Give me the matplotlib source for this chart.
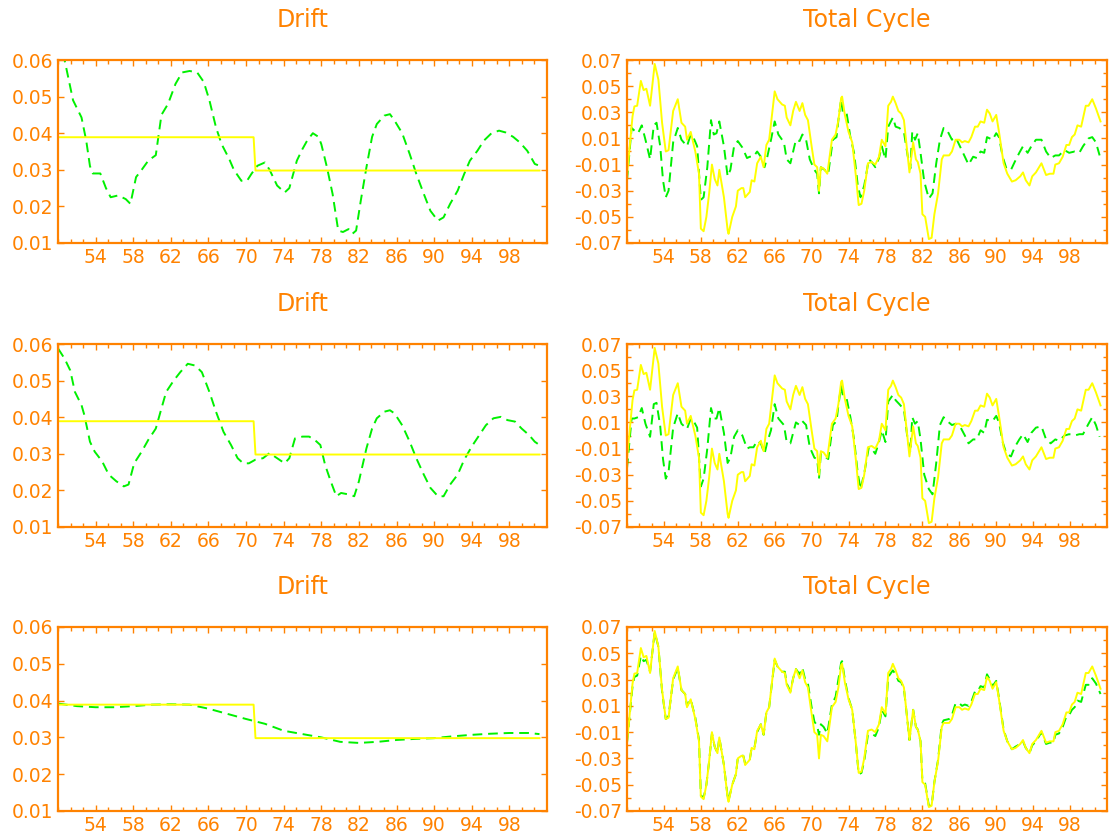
import numpy as np
import matplotlib
matplotlib.use("Agg")
import matplotlib.pyplot as plt
from matplotlib.ticker import FixedLocator

ORANGE = '#FF8200'
YELLOW = '#FFFF00'
GREEN = '#00F000'

# ---- Drift panels ----
trend_years = [50.0, 70.8, 71.0, 101.2]
trend_vals = [0.0389, 0.0389, 0.0298, 0.0298]

d1_years = [50.0, 50.7, 51.6, 52.5, 53.0, 53.4, 53.7, 54.5, 55.1, 55.6,
            56.4, 57.2, 57.7, 58.3, 58.9, 59.6, 60.4, 61.0, 61.7, 62.5,
            63.2, 64.0, 64.8, 65.5, 66.1, 66.8, 67.4, 68.2, 68.7, 69.5,
            70.1, 70.6, 71.2, 72.0, 72.5, 73.3, 74.1, 74.6, 75.4, 76.0,
            76.5, 77.1, 77.7, 78.0, 78.6, 79.2, 79.8, 80.3, 80.9, 81.3,
            81.7, 82.2, 82.8, 83.4, 83.9, 84.7, 85.3, 85.8, 86.6, 87.4,
            88.1, 88.9, 89.6, 90.4, 91.0, 91.7, 92.5, 93.2, 93.8, 94.6,
            95.3, 96.1, 96.9, 97.6, 98.4, 99.1, 99.9, 100.7, 101.2]
d1_vals = [0.066, 0.060, 0.049, 0.0443, 0.038, 0.031, 0.029, 0.029, 0.025, 0.0225,
           0.023, 0.022, 0.0207, 0.028, 0.030, 0.0325, 0.034, 0.045, 0.048, 0.0535,
           0.0566, 0.057, 0.0566, 0.054, 0.049, 0.0416, 0.037, 0.033, 0.030, 0.027,
           0.027, 0.029, 0.0311, 0.032, 0.030, 0.0257, 0.0238, 0.025, 0.0325, 0.0357,
           0.038, 0.040, 0.039, 0.037, 0.0307, 0.0234, 0.0134, 0.013, 0.0138, 0.0125,
           0.0134, 0.0216, 0.0307, 0.039, 0.0425, 0.0448, 0.0452, 0.0434, 0.040, 0.0343,
           0.0289, 0.0234, 0.0188, 0.0161, 0.017, 0.0207, 0.0243, 0.0289, 0.0325, 0.0352,
           0.038, 0.040, 0.0407, 0.0402, 0.039, 0.0375, 0.0352, 0.0316, 0.0311]

d2_years = [50.0, 50.7, 51.3, 51.8, 52.5, 52.8, 53.4, 53.9, 54.7, 55.4,
            56.2, 57.0, 57.5, 58.1, 58.9, 59.6, 60.4, 61.0, 61.5, 62.3,
            63.0, 63.8, 64.6, 65.3, 66.1, 66.8, 67.6, 68.4, 69.1, 69.7,
            70.3, 71.0, 71.8, 72.5, 73.3, 74.1, 74.6, 75.2, 76.0, 76.7,
            77.3, 77.9, 78.4, 79.0, 79.6, 80.1, 80.9, 81.5, 82.0, 82.8,
            83.4, 83.9, 84.7, 85.3, 85.8, 86.6, 87.4, 88.1, 88.9, 89.6,
            90.4, 91.0, 91.7, 92.5, 93.2, 94.0, 94.8, 95.5, 96.3, 97.1,
            97.8, 98.6, 99.3, 100.1, 100.7, 101.2]
d2_vals = [0.0588, 0.056, 0.0528, 0.0469, 0.0433, 0.0406, 0.0333, 0.0306, 0.0279, 0.0243,
           0.0225, 0.0211, 0.0216, 0.0274, 0.0306, 0.0338, 0.0369, 0.0424, 0.0469, 0.050,
           0.0523, 0.0546, 0.0541, 0.0523, 0.0469, 0.0415, 0.036, 0.0324, 0.0288, 0.0274,
           0.0274, 0.0284, 0.0288, 0.0302, 0.0288, 0.0274, 0.0288, 0.0342, 0.0347, 0.0347,
           0.0338, 0.0324, 0.027, 0.0225, 0.0184, 0.0193, 0.0189, 0.0184, 0.0225, 0.0315,
           0.0369, 0.0397, 0.0415, 0.0419, 0.041, 0.0378, 0.0333, 0.0288, 0.0243, 0.0207,
           0.0184, 0.0184, 0.0216, 0.0243, 0.0284, 0.032, 0.0351, 0.0378, 0.0397, 0.0401,
           0.0392, 0.0388, 0.0369, 0.0351, 0.0333, 0.0324]

d3_years = [50, 52, 54, 56, 58, 60, 62, 64, 66, 68, 70, 72, 74, 76, 78, 80,
            82, 84, 86, 88, 90, 92, 94, 96, 98, 100, 101.2]
d3_vals = [0.0392, 0.0385, 0.0382, 0.0382, 0.0385, 0.0389, 0.039, 0.0389, 0.0378,
           0.0364, 0.035, 0.0337, 0.0318, 0.0309, 0.030, 0.0288, 0.0285, 0.0288,
           0.0293, 0.0296, 0.0298, 0.0303, 0.0307, 0.031, 0.0312, 0.0312, 0.0309]

# ---- Total cycle panels ----
cyc_years = [50.0, 50.6, 50.8, 51.1, 51.5, 51.8, 52.1, 52.5, 53.0, 53.4,
             53.8, 54.2, 54.5, 55.0, 55.5, 55.9, 56.3, 56.5, 56.9, 57.4,
             57.8, 58.0, 58.3, 58.6, 58.9, 59.2, 59.5, 59.8, 60.0, 60.5,
             60.9, 61.0, 61.4, 61.8, 62.0, 62.4, 62.6, 62.8, 63.3, 63.5,
             63.8, 64.1, 64.5, 64.8, 65.1, 65.4, 66.0, 66.3, 66.8, 67.1,
             67.3, 67.7, 68.0, 68.3, 68.7, 69.0, 69.3, 69.6, 70.0, 70.3,
             70.6, 70.8, 71.0, 71.3, 71.7, 72.2, 72.6, 72.9, 73.2, 73.3,
             73.6, 74.0, 74.4, 74.8, 75.1, 75.4, 75.7, 76.1, 76.5, 76.9,
             77.3, 77.6, 78.0, 78.3, 78.6, 78.8, 79.1, 79.4, 79.7, 80.0,
             80.3, 80.6, 80.9, 81.0, 81.3, 81.5, 81.8, 82.0, 82.3, 82.7,
             83.0, 83.3, 83.7, 84.1, 84.3, 84.9, 85.2, 85.6, 86.0, 86.3,
             86.6, 87.0, 87.3, 87.7, 88.0, 88.3, 88.7, 89.0, 89.3, 89.6,
             90.0, 90.3, 90.8, 91.2, 91.7, 92.1, 92.6, 92.9, 93.2, 93.6,
             93.9, 94.3, 94.9, 95.4, 95.8, 96.2, 96.4, 96.8, 97.2, 97.6,
             97.9, 98.2, 98.5, 98.8, 99.2, 99.7, 100.0, 100.4, 100.8, 101.3]
cyc_actual = [-0.018, 0.027, 0.0345, 0.035, 0.054, 0.047, 0.048, 0.035, 0.067, 0.055,
              0.022, 0.000, 0.001, 0.031, 0.040, 0.022, 0.019, 0.009, 0.015, 0.000,
              -0.017, -0.059, -0.061, -0.050, -0.032, -0.010, -0.021, -0.026, -0.014, -0.035,
              -0.060, -0.063, -0.050, -0.042, -0.030, -0.028, -0.028, -0.035, -0.031, -0.022,
              -0.023, -0.009, -0.004, -0.012, 0.005, 0.009, 0.046, 0.040, 0.036, 0.035,
              0.026, 0.020, 0.031, 0.038, 0.031, 0.037, 0.028, 0.024, 0.004, -0.010,
              -0.012, -0.030, -0.012, -0.013, -0.017, 0.009, 0.013, 0.024, 0.041, 0.042,
              0.028, 0.015, 0.007, -0.019, -0.041, -0.040, -0.030, -0.009, -0.008, -0.010,
              -0.004, 0.009, 0.004, 0.035, 0.038, 0.042, 0.037, 0.031, 0.029, 0.024,
              0.004, -0.016, 0.001, 0.007, -0.006, -0.008, -0.017, -0.048, -0.050, -0.067,
              -0.066, -0.048, -0.032, -0.006, -0.003, -0.003, 0.000, 0.009, 0.009, 0.007,
              0.008, 0.007, 0.011, 0.019, 0.019, 0.023, 0.022, 0.032, 0.029, 0.023,
              0.028, 0.015, -0.009, -0.017, -0.023, -0.022, -0.019, -0.016, -0.022, -0.026,
              -0.019, -0.016, -0.009, -0.018, -0.017, -0.017, -0.010, -0.009, -0.004, 0.005,
              0.005, 0.011, 0.013, 0.020, 0.019, 0.035, 0.035, 0.040, 0.033, 0.023]
cyc3_fit = [-0.018, 0.025, 0.032, 0.033, 0.048, 0.044, 0.045, 0.036, 0.066, 0.055,
            0.021, 0.000, 0.002, 0.030, 0.039, 0.022, 0.019, 0.010, 0.015, 0.001,
            -0.016, -0.058, -0.060, -0.050, -0.032, -0.011, -0.021, -0.026, -0.014, -0.035,
            -0.059, -0.062, -0.050, -0.042, -0.030, -0.028, -0.028, -0.034, -0.031, -0.022,
            -0.022, -0.010, -0.004, -0.012, 0.005, 0.009, 0.045, 0.040, 0.036, 0.036,
            0.027, 0.021, 0.031, 0.038, 0.034, 0.039, 0.030, 0.027, 0.009, -0.002,
            -0.005, -0.012, -0.004, -0.006, -0.011, 0.011, 0.017, 0.030, 0.043, 0.044,
            0.030, 0.016, 0.007, -0.019, -0.042, -0.041, -0.032, -0.012, -0.011, -0.013,
            -0.006, 0.007, 0.002, 0.032, 0.035, 0.037, 0.034, 0.029, 0.028, 0.023,
            0.004, -0.016, 0.001, 0.007, -0.006, -0.008, -0.017, -0.047, -0.049, -0.066,
            -0.066, -0.048, -0.031, -0.004, -0.001, 0.000, 0.003, 0.012, 0.012, 0.010,
            0.011, 0.010, 0.013, 0.021, 0.021, 0.025, 0.024, 0.034, 0.030, 0.025,
            0.029, 0.016, -0.008, -0.017, -0.023, -0.021, -0.019, -0.017, -0.022, -0.026,
            -0.020, -0.017, -0.010, -0.019, -0.018, -0.018, -0.012, -0.011, -0.006, 0.002,
            0.003, 0.007, 0.009, 0.014, 0.013, 0.026, 0.026, 0.031, 0.027, 0.019]

g_years = [50.0, 50.5, 50.8, 51.2, 51.6, 52.0, 52.5, 52.9, 53.2, 53.6,
           53.9, 54.2, 54.5, 55.0, 55.5, 55.9, 56.5, 56.9, 57.3, 57.6,
           58.0, 58.3, 58.7, 59.1, 59.4, 59.7, 60.0, 60.5, 60.9, 61.2,
           61.6, 62.0, 62.5, 63.0, 63.3, 63.7, 64.1, 64.5, 64.9, 65.2,
           65.6, 66.0, 66.4, 67.0, 67.3, 67.7, 68.3, 68.7, 69.0, 69.4,
           69.8, 70.3, 70.6, 70.8, 71.0, 71.4, 71.8, 72.3, 72.7, 72.9,
           73.2, 73.4, 73.8, 74.2, 74.6, 75.0, 75.3, 75.7, 76.2, 76.5,
           76.9, 77.3, 77.6, 78.0, 78.3, 78.8, 79.1, 79.5, 80.0, 80.4,
           80.7, 80.9, 81.2, 81.5, 81.8, 82.2, 82.7, 83.1, 83.5, 83.9,
           84.3, 84.7, 85.2, 85.6, 86.0, 86.6, 87.0, 87.5, 87.9, 88.3,
           88.7, 89.0, 89.6, 90.0, 90.3, 90.7, 91.1, 91.6, 92.0, 92.5,
           92.9, 93.4, 93.8, 94.3, 94.9, 95.4, 95.9, 96.4, 96.8, 97.4,
           97.9, 98.5, 99.0, 99.4, 100.0, 100.4, 100.8, 101.2]
cyc1_fit = [-0.022, 0.018, 0.016, 0.014, 0.020, 0.009, -0.006, 0.020, 0.022, 0.004,
            -0.022, -0.035, -0.030, 0.007, 0.018, 0.009, 0.004, 0.013, 0.009, 0.004,
            -0.037, -0.035, -0.012, 0.024, 0.013, 0.014, 0.023, 0.004, -0.019, -0.014,
            0.004, 0.008, 0.003, -0.005, -0.004, -0.004, 0.000, -0.004, -0.012, -0.004,
            0.009, 0.023, 0.013, 0.007, -0.006, -0.009, 0.009, 0.008, 0.013, 0.009,
            -0.006, -0.014, -0.017, -0.032, -0.012, -0.014, -0.017, 0.009, 0.011, 0.024,
            0.040, 0.029, 0.029, 0.011, -0.001, -0.026, -0.035, -0.026, -0.006, -0.008,
            -0.012, -0.005, 0.004, -0.006, 0.019, 0.026, 0.019, 0.018, 0.015, -0.003,
            -0.013, 0.015, 0.009, 0.014, -0.001, -0.023, -0.036, -0.032, -0.009, 0.009,
            0.018, 0.016, 0.009, 0.011, 0.005, -0.004, -0.010, -0.004, -0.005, 0.000,
            -0.001, 0.011, 0.009, 0.014, 0.011, -0.004, -0.013, -0.014, -0.008, -0.001,
            0.004, -0.001, 0.004, 0.009, 0.009, 0.000, -0.005, -0.003, -0.003, 0.001,
            -0.001, 0.000, -0.001, 0.004, 0.010, 0.011, 0.007, -0.003]
cyc2_fit = [-0.025, 0.013, 0.013, 0.014, 0.021, 0.009, -0.001, 0.024, 0.025, 0.007,
            -0.018, -0.033, -0.028, 0.006, 0.017, 0.009, 0.005, 0.013, 0.010, 0.006,
            -0.039, -0.033, -0.010, 0.021, 0.013, 0.013, 0.021, 0.002, -0.021, -0.017,
            -0.001, 0.004, 0.000, -0.010, -0.009, -0.009, -0.004, -0.006, -0.014, -0.005,
            0.004, 0.024, 0.013, 0.008, -0.005, -0.006, 0.010, 0.008, 0.011, 0.008,
            -0.009, -0.017, -0.018, -0.033, -0.014, -0.016, -0.018, 0.008, 0.011, 0.023,
            0.038, 0.030, 0.028, 0.014, -0.003, -0.029, -0.041, -0.029, -0.009, -0.010,
            -0.014, -0.005, 0.004, -0.005, 0.026, 0.031, 0.027, 0.024, 0.020, -0.003,
            -0.013, 0.014, 0.009, 0.011, -0.003, -0.030, -0.041, -0.045, -0.021, 0.008,
            0.014, 0.011, 0.008, 0.009, 0.008, 0.000, -0.006, -0.003, -0.003, 0.004,
            0.002, 0.012, 0.011, 0.015, 0.010, -0.005, -0.014, -0.016, -0.009, -0.003,
            0.001, -0.005, 0.002, 0.006, 0.007, -0.003, -0.006, -0.003, -0.004, 0.000,
            0.001, 0.000, 0.001, 0.001, 0.009, 0.014, 0.008, -0.001]

drift_series = [(d1_years, d1_vals), (d2_years, d2_vals), (d3_years, d3_vals)]
cycle_series = [(g_years, cyc1_fit), (g_years, cyc2_fit), (cyc_years, cyc3_fit)]

x_major = [54, 58, 62, 66, 70, 74, 78, 82, 86, 90, 94, 98]
drift_ticks = [0.01, 0.02, 0.03, 0.04, 0.05, 0.06]
cycle_ticks = [-0.07, -0.05, -0.03, -0.01, 0.01, 0.03, 0.05, 0.07]

W, H = 1109, 834
fig = plt.figure(figsize=(W / 100, H / 100), dpi=100)
fig.patch.set_facecolor('white')

row_px = [(60, 243), (344, 527), (627, 811)]
left_px = (58, 547)
right_px = (627, 1107)


def style(ax):
    for s in ax.spines.values():
        s.set_color(ORANGE)
        s.set_linewidth(1.6)
    ax.tick_params(which='both', direction='in', top=True, right=True,
                   color=ORANGE, labelcolor=ORANGE, labelsize=13.5, width=1)
    ax.tick_params(which='major', length=4)
    ax.tick_params(which='minor', length=3)
    ax.set_xlim(50, 102)
    ax.xaxis.set_major_locator(FixedLocator(x_major))
    ax.xaxis.set_minor_locator(FixedLocator(np.arange(50, 102, 4 / 3)))
    ax.set_xticklabels([str(v) for v in x_major])


for r, (top, bot) in enumerate(row_px):
    h = (bot - top) / H
    b = 1 - bot / H
    axl = fig.add_axes([left_px[0] / W, b, (left_px[1] - left_px[0]) / W, h])
    axr = fig.add_axes([right_px[0] / W, b, (right_px[1] - right_px[0]) / W, h])

    xs, ys = drift_series[r]
    axl.plot(xs, ys, color=GREEN, lw=1.4, ls=(0, (5, 3)))
    axl.plot(trend_years, trend_vals, color=YELLOW, lw=1.4)
    axl.set_ylim(0.01, 0.06)
    axl.set_yticks(drift_ticks)
    axl.set_yticklabels(['%.2f' % v for v in drift_ticks])
    axl.set_title('Drift', color=ORANGE, fontsize=17, pad=24)
    style(axl)

    xs, ys = cycle_series[r]
    axr.plot(xs, ys, color=GREEN, lw=1.4, ls=(0, (5, 3)))
    axr.plot(cyc_years, cyc_actual, color=YELLOW, lw=1.4)
    axr.set_ylim(-0.07, 0.07)
    axr.set_yticks(cycle_ticks)
    axr.set_yticklabels(['%.2f' % v for v in cycle_ticks])
    axr.yaxis.set_minor_locator(FixedLocator(np.arange(-0.06, 0.07, 0.02)))
    axr.set_title('Total Cycle', color=ORANGE, fontsize=17, pad=24)
    style(axr)

fig.savefig('out.png', dpi=100)
